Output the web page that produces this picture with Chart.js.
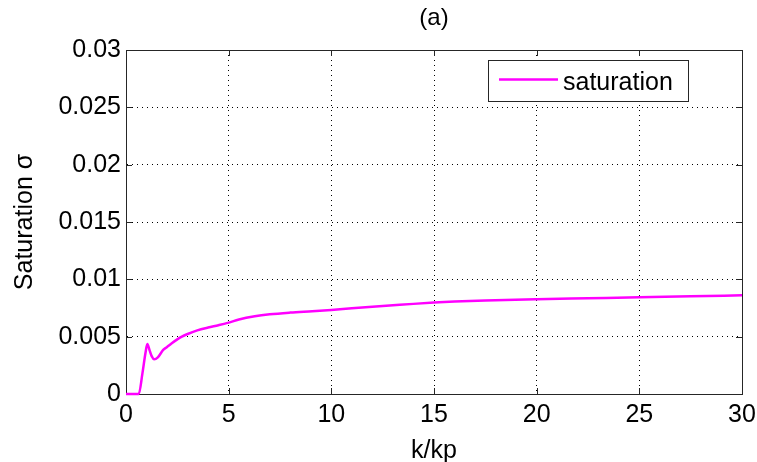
<!DOCTYPE html>
<html>
<head>
<meta charset="utf-8">
<script src="https://cdn.jsdelivr.net/npm/chart.js@4.4.1/dist/chart.umd.min.js"></script>
<style>
  html, body { margin: 0; padding: 0; background: #fff; }
  #wrap { width: 757px; height: 462px; }
</style>
</head>
<body>
<div id="wrap"><canvas id="satChart" width="757" height="462"></canvas></div>
<script>
// k/kp samples and the saturation curve
var kRatio = [0, 0.3, 0.62, 0.8, 0.95, 1.04, 1.15, 1.25, 1.37, 1.55, 1.81, 2.0, 2.23, 2.48, 2.72, 2.97,
              3.47, 4.0, 4.5, 4.95, 5.5, 6.27, 7.0, 8.0, 9.07, 10, 11, 12, 13, 14, 15, 16, 17.5, 20, 22.5, 25, 27.5, 30];
var saturation = [0, 0, 0, 0.0018, 0.0036, 0.00436, 0.0038, 0.0033, 0.00304, 0.0032, 0.00384, 0.0041, 0.00442, 0.00474, 0.0050, 0.00521,
                  0.00555, 0.0058, 0.0060, 0.0062, 0.0065, 0.00678, 0.00695, 0.0071, 0.00722, 0.00733, 0.00747, 0.0076, 0.00773, 0.00786, 0.00797, 0.00806, 0.00815, 0.00826, 0.00835, 0.00844, 0.00852, 0.00861];

var xTicks = [0, 5, 10, 15, 20, 25, 30];
var yTicks = [0, 0.005, 0.01, 0.015, 0.02, 0.025, 0.03];
var yTickLabels = ['0', '0.005', '0.01', '0.015', '0.02', '0.025', '0.03'];

var FONT = '"Liberation Sans", Arial, Helvetica, sans-serif';

// box around the plot with inward tick marks (drawn under the curve)
var matlabFrame = {
    id: 'matlabFrame',
    beforeDatasetsDraw: function(chart) {
        var ctx = chart.ctx;
        var a = chart.chartArea;
        var xs = chart.scales.x, ys = chart.scales.y;
        var len = 6;

        ctx.save();
        ctx.strokeStyle = '#262626';
        ctx.lineWidth = 1;
        ctx.beginPath();
        xs.ticks.forEach(function(t) {
            var px = Math.round(xs.getPixelForValue(t.value)) + 0.5;
            ctx.moveTo(px, a.bottom); ctx.lineTo(px, a.bottom - len);
            ctx.moveTo(px, a.top); ctx.lineTo(px, a.top + len);
        });
        ys.ticks.forEach(function(t) {
            var py = Math.round(ys.getPixelForValue(t.value)) + 0.5;
            ctx.moveTo(a.left, py); ctx.lineTo(a.left + len, py);
            ctx.moveTo(a.right, py); ctx.lineTo(a.right - len, py);
        });
        ctx.stroke();
        ctx.strokeRect(Math.round(a.left) + 0.5, Math.round(a.top) + 0.5,
                       Math.round(a.right - a.left), Math.round(a.bottom - a.top));
        ctx.restore();
    },
    // legend box and title on top of everything
    afterDatasetsDraw: function(chart) {
        var ctx = chart.ctx;
        var a = chart.chartArea;
        var ds = chart.data.datasets[0];

        ctx.save();
        ctx.strokeStyle = '#262626';
        ctx.lineWidth = 1;
        ctx.fillStyle = '#fff';
        ctx.fillRect(488, 60, 200, 41);
        ctx.strokeRect(488.5, 60.5, 200, 41);
        ctx.strokeStyle = ds.borderColor;
        ctx.lineWidth = 2.5;
        ctx.beginPath();
        ctx.moveTo(499, 79.5); ctx.lineTo(558, 79.5);
        ctx.stroke();
        ctx.fillStyle = '#000';
        ctx.font = '25px ' + FONT;
        ctx.textAlign = 'left';
        ctx.textBaseline = 'alphabetic';
        ctx.fillText(ds.label, 563, 90);

        ctx.font = '24px ' + FONT;
        ctx.textAlign = 'center';
        ctx.fillText('(a)', (a.left + a.right) / 2, 25);
        ctx.restore();
    }
};

new Chart(document.getElementById('satChart').getContext('2d'), {
    type: 'line',
    data: {
        datasets: [{
            label: 'saturation',
            data: kRatio.map(function(k, i) { return { x: k, y: saturation[i] }; }),
            borderColor: '#ff00ff',
            borderWidth: 2.5,
            pointRadius: 0,
            cubicInterpolationMode: 'monotone',
            clip: 2,
            fill: false
        }]
    },
    options: {
        responsive: false,
        animation: false,
        layout: { padding: { left: 0, right: 15, top: 50, bottom: 0 } },
        plugins: {
            legend: { display: false },
            title: { display: false },
            tooltip: { enabled: false }
        },
        scales: {
            x: {
                type: 'linear',
                min: 0,
                max: 30,
                afterBuildTicks: function(scale) {
                    scale.ticks = xTicks.map(function(v) { return { value: v }; });
                },
                afterFit: function(scale) {
                    scale.height = 68;
                    scale.paddingLeft = 0;
                    scale.paddingRight = 0;
                },
                ticks: {
                    color: '#000',
                    padding: 6,
                    maxRotation: 0,
                    font: { family: FONT, size: 25 }
                },
                grid: { color: '#000', lineWidth: 1, drawTicks: false },
                border: { display: true, color: '#262626', dash: [1, 4] },
                title: {
                    display: true,
                    text: 'k/kp',
                    color: '#000',
                    font: { family: FONT, size: 25, lineHeight: 0.9 },
                    padding: { top: 0, bottom: 0 }
                }
            },
            y: {
                type: 'linear',
                min: 0,
                max: 0.03,
                afterBuildTicks: function(scale) {
                    scale.ticks = yTicks.map(function(v) { return { value: v }; });
                },
                afterFit: function(scale) {
                    scale.width = 126;
                    scale.paddingTop = 0;
                    scale.paddingBottom = 0;
                },
                ticks: {
                    color: '#000',
                    padding: 5,
                    font: { family: FONT, size: 25 },
                    callback: function(value) {
                        var i = yTicks.indexOf(value);
                        return i >= 0 ? yTickLabels[i] : '';
                    }
                },
                grid: { color: '#000', lineWidth: 1, drawTicks: false },
                border: { display: true, color: '#262626', dash: [1, 4] },
                title: {
                    display: true,
                    text: 'Saturation σ',
                    color: '#000',
                    font: { family: FONT, size: 25, lineHeight: 1.2 },
                    padding: { top: 10, bottom: 0 }
                }
            }
        }
    },
    plugins: [matlabFrame]
});
</script>
</body>
</html>
